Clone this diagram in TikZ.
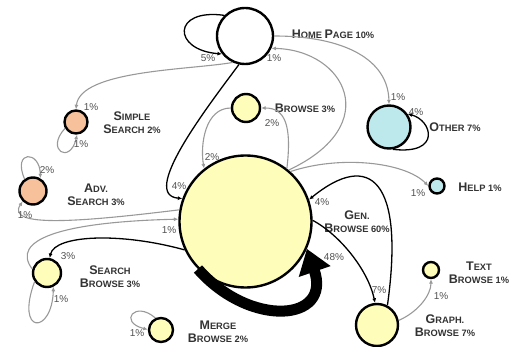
\documentclass[tikz,border=0pt]{standalone}
\usepackage{fontspec}
\setmainfont{Liberation Sans}
\usetikzlibrary{arrows.meta}
\definecolor{browseyellow}{HTML}{FFFDBA}
\definecolor{searchorange}{HTML}{F7C29B}
\definecolor{othercyan}{HTML}{BDE8EC}
\newcommand{\bigc}[1]{{\fontsize{12.5}{13}\selectfont #1}}

\begin{document}
\begin{tikzpicture}[x=1pt, y=-1pt, >={Latex[length=4.5pt,width=4pt]},
		pagenode/.style={circle, draw, line width=2.4pt, inner sep=0pt},
		pagelabel/.style={font=\fontsize{9.3}{13}\selectfont\bfseries, text=black!80, align=center},
		pct/.style={font=\fontsize{10}{10}\selectfont, text=black!68, inner sep=1pt},
		hit/.style={->, line width=1.3pt},
		miss/.style={->, line width=1.1pt, black!40}]
		\useasboundingbox (0,0) rectangle (511,347);
		\node[pagenode, minimum size=56pt] (home) at (245,36) {};
		\node[pagenode, minimum size=23pt, fill=searchorange] (simple) at (76,122) {};
		\node[pagenode, minimum size=27pt, fill=searchorange] (adv) at (33,191) {};
		\node[pagenode, minimum size=28pt, fill=browseyellow] (browse) at (246,108) {};
		\node[pagenode, minimum size=43pt, fill=othercyan] (other) at (389,127) {};
		\node[pagenode, minimum size=132pt, fill=browseyellow] (gen) at (245.5,221.5) {};
		\node[pagenode, minimum size=15pt, fill=othercyan] (help) at (437,186) {};
		\node[pagenode, minimum size=28pt, fill=browseyellow] (search) at (47,273) {};
		\node[pagenode, minimum size=24pt, fill=browseyellow] (merge) at (161,330) {};
		\node[pagenode, minimum size=42pt, fill=browseyellow] (graph) at (377,325) {};
		\node[pagenode, minimum size=16pt, fill=browseyellow] (textb) at (431,270) {};
		% page names
		\node[pagelabel] (home-name) at (333,34) {\bigc{H}OME \bigc{P}AGE 10\%};
		\node[pagelabel] (simple-name) at (132,122.5) {\bigc{S}IMPLE\\\bigc{S}EARCH 2\%};
		\node[pagelabel] (adv-name) at (96,194.5) {\bigc{A}DV.\\\bigc{S}EARCH 3\%};
		\node[pagelabel] (browse-name) at (305,108) {\bigc{B}ROWSE 3\%};
		\node[pagelabel] (other-name) at (455,127) {\bigc{O}THER 7\%};
		\node[pagelabel] (help-name) at (480,187) {\bigc{H}ELP 1\%};
		\node[pagelabel] (gen-name) at (357,221.5) {\bigc{G}EN.\\\bigc{B}ROWSE 60\%};
		\node[pagelabel] (search-name) at (110,277) {\bigc{S}EARCH\\\bigc{B}ROWSE 3\%};
		\node[pagelabel] (merge-name) at (218,331.5) {\bigc{M}ERGE\\\bigc{B}ROWSE 2\%};
		\node[pagelabel] (graph-name) at (445,325.5) {\bigc{G}RAPH.\\\bigc{B}ROWSE 7\%};
		\node[pagelabel] (textb-name) at (479,272.5) {\bigc{T}EXT\\\bigc{B}ROWSE 1\%};
		% transitions
		\draw[hit] (home.135) .. controls (172,8) and (172,50) .. (home.218);
		\draw[miss] (home.245) .. controls (190,70) and (80,70) .. (simple.north);
		\draw[miss] (gen.50) .. controls (385,125) and (345,50) .. (home.-25);
		\draw[miss] (home.east) .. controls (345,36) and (388,60) .. (other.north);
		\draw[hit] (other.-80) .. controls (442,155) and (432,120) .. (other.35);
		\draw[miss] (browse.west) .. controls (205,108) and (200,145) .. (gen.128);
		\draw[miss] (gen.52) .. controls (292,125) and (285,108) .. (browse.east);
		\draw[hit] (home.258) .. controls (205,110) and (140,195) .. (gen.160);
		\draw[miss] (gen.48) .. controls (340,155) and (405,162) .. (help.west);
		\draw[hit] (graph.62) .. controls (405,180) and (370,150) .. (gen.19);
		\draw[hit] (gen.1) .. controls (340,235) and (368,270) .. (graph.95);
		\draw[line width=11pt, -{Triangle[length=24pt,width=32pt]}] (gen.225) .. controls (250,328) and (332,322) .. (gen.-24);
		\draw[hit] (gen.205) .. controls (120,232) and (55,235) .. (search.80);
		\draw[miss] (search.165) .. controls (10,240) and (60,222) .. (gen.178);
		\draw[miss] (search.215) .. controls (15,335) and (52,335) .. (search.-65);
		\draw[miss] (gen.170) .. controls (80,222) and (5,228) .. (adv.225);
		\draw[miss] (adv.125) .. controls (12,150) and (40,150) .. (adv.60);
		\draw[miss] (simple.210) .. controls (45,150) and (70,165) .. (simple.-85);
		\draw[miss] (merge.115) .. controls (135,300) and (118,322) .. (merge.178);
		\draw[miss] (graph.12) .. controls (418,312) and (431,295) .. (textb.south);
		% shares
		\node[pct] (p-home-home) at (208,58) {5\%};
		\node[pct] (p-gen-home) at (274,58) {1\%};
		\node[pct] (p-home-simple) at (91,107) {1\%};
		\node[pct] (p-simple-simple) at (81,144) {1\%};
		\node[pct] (p-gen-browse) at (272,123) {2\%};
		\node[pct] (p-home-other) at (398,97) {1\%};
		\node[pct] (p-other-other) at (416,112) {4\%};
		\node[pct] (p-browse-gen) at (212,157) {2\%};
		\node[pct] (p-home-gen) at (179,186) {4\%};
		\node[pct] (p-adv-adv) at (47,170) {2\%};
		\node[pct] (p-gen-adv) at (25,215) {1\%};
		\node[pct] (p-search-gen) at (169,230) {1\%};
		\node[pct] (p-gen-search) at (68,256) {3\%};
		\node[pct] (p-search-search) at (61,299) {1\%};
		\node[pct] (p-merge-merge) at (137,333) {1\%};
		\node[pct] (p-graph-gen) at (322,202) {4\%};
		\node[pct] (p-gen-help) at (418,193) {1\%};
		\node[pct] (p-gen-gen) at (334,257) {48\%};
		\node[pct] (p-gen-graph) at (379,290) {7\%};
		\node[pct] (p-graph-textb) at (441,296) {1\%};
	\end{tikzpicture}
\end{document}
